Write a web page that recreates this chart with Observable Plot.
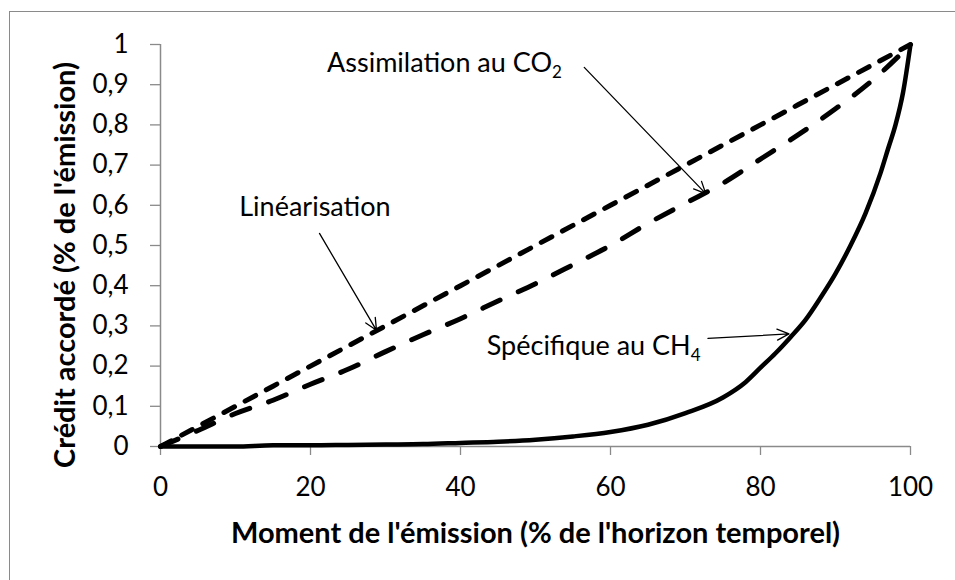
<!DOCTYPE html>
<html><head><meta charset="utf-8">
<script src="https://cdn.jsdelivr.net/npm/d3@7"></script>
<script src="https://cdn.jsdelivr.net/npm/@observablehq/plot@0.6"></script>
<style>
html,body{margin:0;padding:0;background:#fff;overflow:hidden;}
#wrap{position:relative;width:955px;height:580px;overflow:hidden;background:#fff;}
#frame{position:absolute;left:9px;top:11px;width:1000px;height:700px;border:1px solid #8a8a8a;box-sizing:border-box;}
#chart{position:absolute;left:0;top:0;}
</style></head><body>
<div id="wrap"><div id="frame"></div><div id="chart"></div></div>
<script>
// X values (moment of emission, % of time horizon)
const moment = [0,5,10,15,20,25,30,35,40,45,50,55,60,65,70,75,80,85,90,95,100];
// Linéarisation (short dash)
const linearisation = [0,0.05,0.10,0.15,0.20,0.25,0.30,0.35,0.40,0.45,0.50,0.55,0.60,0.65,0.70,0.75,0.80,0.85,0.90,0.95,1];
// Assimilation au CO2 (long dash)
const assimilationCO2 = [0,0.04,0.082,0.115,0.155,0.192,0.236,0.278,0.318,0.362,0.405,0.452,0.50,0.555,0.605,0.655,0.715,0.775,0.84,0.912,1];
// Spécifique au CH4 (solid)
const momentCH4 = [0,5,10,15,20,25,30,35,40,45,50,55,60,65,70,75,78,80,82,84,86,88,90,92,94,96,97,98,99,100];
const specifiqueCH4 = [0,0,0,0.003,0.003,0.004,0.005,0.006,0.009,0.012,0.017,0.025,0.036,0.054,0.083,0.122,0.16,0.196,0.232,0.272,0.315,0.37,0.43,0.50,0.58,0.68,0.74,0.80,0.88,1];

const xTicks = [0,20,40,60,80,100];
const xTickLabels = ["0","20","40","60","80","100"];
const yTicks = [0,0.1,0.2,0.3,0.4,0.5,0.6,0.7,0.8,0.9,1];
const yTickLabels = ["0","0,1","0,2","0,3","0,4","0,5","0,6","0,7","0,8","0,9","1"];

const xTitle = "Moment de l'émission (% de l'horizon temporel)";
const yTitle = "Crédit accordé (% de l'émission)";

// annotation labels (anchored in data space)
const annotationText = ["Linéarisation","Assimilation au CO2","Spécifique au CH4"];
const annotationX = [10.5, 22.2, 43.5];
const annotationY = [0.595, 0.953, 0.249];
// annotation arrows
const arrowX1 = [21.2, 56.5, 73.0];
const arrowY1 = [0.53, 0.943, 0.269];
const arrowX2 = [28.8, 72.7, 83.8];
const arrowY2 = [0.289, 0.629, 0.28];

const lin = moment.map((m,i)=>({x:m, y:linearisation[i]}));
const co2 = moment.map((m,i)=>({x:m, y:assimilationCO2[i]}));
const ch4 = momentCH4.map((m,i)=>({x:m, y:specifiqueCH4[i]}));
const notes = annotationText.map((t,i)=>({t, x:annotationX[i], y:annotationY[i]}));
const arrows = arrowX1.map((_,i)=>({x1:arrowX1[i], y1:arrowY1[i], x2:arrowX2[i], y2:arrowY2[i]}));

const axisGray = "#8a8a8a";
const font = "Lato, 'Open Sans', sans-serif";

const chart = Plot.plot({
  width: 955, height: 580,
  marginLeft: 160, marginRight: 45, marginTop: 44, marginBottom: 134,
  style: {fontFamily: font, fontSize: "26px", color: "#000", background: "transparent", overflow: "visible"},
  x: {domain: [0,100]},
  y: {domain: [0,1]},
  marks: [
    Plot.axisY({ticks: yTicks, tickFormat: d => yTickLabels[Math.round(d*10)], tickSize: 10, tickPadding: 22, stroke: axisGray, strokeWidth: 1.3, fill: "#000", label: null, fontSize: 26}),
    Plot.axisX({ticks: xTicks, tickFormat: d => xTickLabels[xTicks.indexOf(d)], tickSize: 9, tickPadding: 22, stroke: axisGray, strokeWidth: 1.3, fill: "#000", label: null, fontSize: 26}),
    Plot.ruleX([0], {stroke: axisGray, strokeWidth: 1.5}),
    Plot.ruleY([0], {stroke: axisGray, strokeWidth: 1.5}),
    Plot.line(ch4, {x: "x", y: "y", stroke: "#000", strokeWidth: 4.5, curve: "monotone-x"}),
    Plot.line(co2, {x: "x", y: "y", stroke: "#000", strokeWidth: 5, strokeDasharray: "19,20", strokeLinecap: "round", curve: "monotone-x"}),
    Plot.line(lin, {x: "x", y: "y", stroke: "#000", strokeWidth: 5, strokeDasharray: "12,12", strokeLinecap: "round"}),
    Plot.arrow(arrows, {x1: "x1", y1: "y1", x2: "x2", y2: "y2", stroke: "#000", strokeWidth: 1.3, headLength: 15, headAngle: 50}),
    Plot.text(notes, {x: "x", y: "y", text: "t", textAnchor: "start", fontSize: 27, fill: "#000"}),
    Plot.text([xTitle], {text: d => d, frameAnchor: "bottom", textAnchor: "middle", dy: 96, fontSize: 29, fontWeight: "bold", fill: "#000", letterSpacing: 0.6}),
    Plot.text([yTitle], {text: d => d, frameAnchor: "left", textAnchor: "middle", rotate: -90, dx: -95, dy: 19.5, fontSize: 29, fontWeight: "bold", fill: "#000"})
  ]
});
document.getElementById("chart").appendChild(chart);

// subscripts for chemical formulas
chart.querySelectorAll("text").forEach(t => {
  const m = t.textContent.match(/^(.*(?:CO|CH))(\d)$/);
  if (m && t.children.length === 0) {
    t.textContent = m[1];
    const ts = document.createElementNS("http://www.w3.org/2000/svg", "tspan");
    ts.setAttribute("font-size", "17");
    ts.setAttribute("dy", "6");
    ts.textContent = m[2];
    t.appendChild(ts);
  }
});
</script>
</body></html>
